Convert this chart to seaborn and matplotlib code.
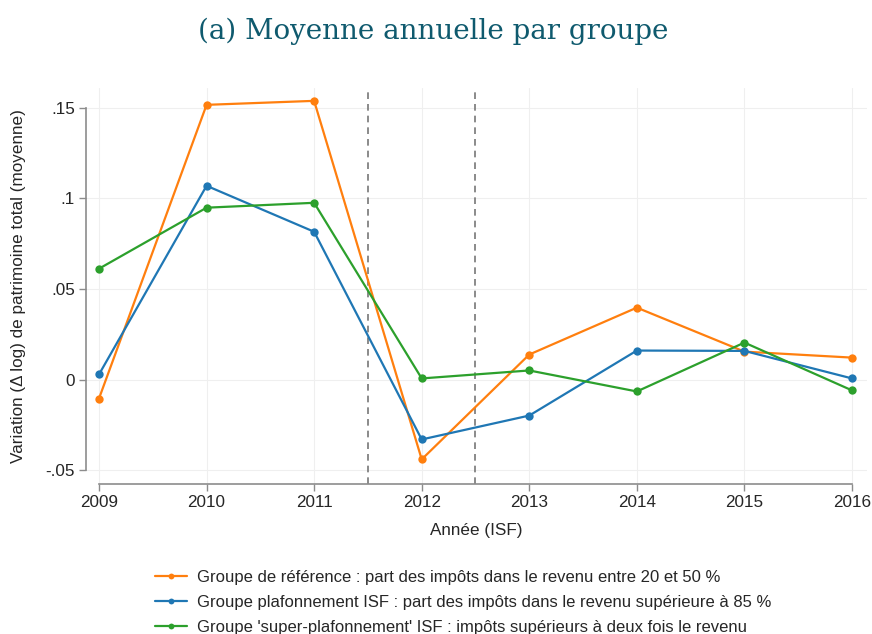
import pandas as pd
import matplotlib.pyplot as plt
import seaborn as sns
from matplotlib.ticker import FixedLocator

# Data
years = [2009, 2010, 2011, 2012, 2013, 2014, 2015, 2016]
groups = [
    "Groupe de référence : part des impôts dans le revenu entre 20 et 50 %",
    "Groupe plafonnement ISF : part des impôts dans le revenu supérieure à 85 %",
    "Groupe 'super-plafonnement' ISF : impôts supérieurs à deux fois le revenu",
]
reference = [-0.0105, 0.1517, 0.1539, -0.0441, 0.0138, 0.0397, 0.0154, 0.0121]
plafond = [0.0028, 0.1070, 0.0816, -0.0331, -0.0199, 0.0160, 0.0158, 0.0006]
super_plafond = [0.0612, 0.0949, 0.0976, 0.0006, 0.0050, -0.0066, 0.0204, -0.0060]
colors = ["#ff7f0e", "#1f77b4", "#2ca02c"]

yticks = [-0.05, 0, 0.05, 0.1, 0.15]
ytick_labels = ["-.05", "0", ".05", ".1", ".15"]
reform_lines = [2011.5, 2012.5]

df = pd.DataFrame({
    "year": years * 3,
    "value": reference + plafond + super_plafond,
    "group": [groups[0]] * 8 + [groups[1]] * 8 + [groups[2]] * 8,
})

sns.set_style("white")
plt.rcParams["font.family"] = ["Liberation Sans", "DejaVu Sans"]

fig = plt.figure(figsize=(8.72, 6.34), dpi=100)
ax = fig.add_axes([0.0986, 0.2366, 0.8956, 0.6246])

sns.lineplot(data=df, x="year", y="value", hue="group", hue_order=groups,
             palette=colors, marker="o", markersize=6, markeredgewidth=0,
             linewidth=1.6, ax=ax)

for x in reform_lines:
    ax.axvline(x, color="#777777", linestyle=(0, (4, 3)), linewidth=1.2, zorder=1)

ax.set_xlim(2008.879, 2016.139)
ax.set_ylim(-0.0577, 0.161)
ax.xaxis.set_major_locator(FixedLocator(years))
ax.set_xticklabels([str(y) for y in years], fontsize=12.3)
ax.set_yticks(yticks)
ax.set_yticklabels(ytick_labels, fontsize=12.3)
ax.grid(True, color="#efefef", linewidth=0.8)
ax.set_axisbelow(True)

for s in ["top", "right"]:
    ax.spines[s].set_visible(False)
ax.spines["left"].set_bounds(-0.05, 0.15)
ax.spines["bottom"].set_bounds(2009, 2016)
for s in ["left", "bottom"]:
    ax.spines[s].set_color("#8c8c8c")
    ax.spines[s].set_linewidth(1.2)
ax.tick_params(axis="both", direction="out", length=5, width=1.0,
               color="#8c8c8c", left=True, bottom=True, pad=3)

ax.set_xlabel("Année (ISF)", fontsize=12.3, labelpad=9)
ax.set_ylabel("Variation (Δ log) de patrimoine total (moyenne)", fontsize=12.3, labelpad=14)

fig.text(0.497, 0.95, "(a) Moyenne annuelle par groupe", ha="center", va="center",
         fontsize=20, color="#0f5a6e", family="DejaVu Serif")

handles, labels = ax.get_legend_handles_labels()
ax.get_legend().remove()
fig.legend(handles, labels, loc="upper left", bbox_to_anchor=(0.170, 0.112),
           borderaxespad=0, frameon=False, fontsize=12, handlelength=1.9,
           handletextpad=0.65, labelspacing=0.62, markerscale=0.7)

fig.savefig("out.png", dpi=100)
